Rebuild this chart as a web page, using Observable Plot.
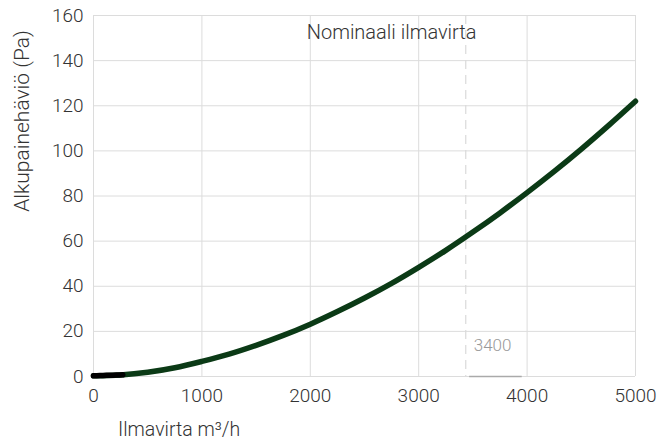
<!DOCTYPE html>
<html><head><meta charset="utf-8">
<script src="https://cdn.jsdelivr.net/npm/d3@7"></script>
<script src="https://cdn.jsdelivr.net/npm/@observablehq/plot@0.6"></script>
<style>
body{margin:0;background:#fff;}
svg{font-family:Roboto,"Liberation Sans",sans-serif;font-weight:300;}
</style></head><body>
<div id="chart"></div>
<script>
const airflow = [0,250,500,750,1000,1250,1500,1750,2000,2250,2500,2750,3000,3250,3500,3750,4000,4250,4500,4750,5000];
const pressure = [0.3,0.7,1.9,3.9,6.7,9.9,13.8,18.2,23.2,28.8,34.8,41.3,48.4,55.9,64.0,72.5,81.5,90.9,100.8,111.2,122.0];
const startFlow = [0,30,60,90,120,150,180,210,240,270];
const startPressure = [0.3,0.35,0.4,0.45,0.5,0.55,0.6,0.65,0.7,0.75];
const nominalFlow = 3434;
const nominalLabel = "3400";
const titleText = "Nominaali ilmavirta";
const xLabel = "Ilmavirta m³/h";
const yLabel = "Alkupainehäviö (Pa)";
const xTicks = [0,1000,2000,3000,4000,5000];
const yTicks = [0,20,40,60,80,100,120,140,160];
const barFlow = [3470, 3955];

const curve = airflow.map((x,i)=>({x, y: pressure[i]}));
const start = startFlow.map((x,i)=>({x, y: startPressure[i]}));

const plot = Plot.plot({
  width: 657, height: 441,
  marginLeft: 93, marginRight: 22, marginTop: 15, marginBottom: 65,
  style: {fontSize: "19px", color: "#333"},
  x: {domain: [0,5000], label: null},
  y: {domain: [0,160], label: null},
  marks: [
    Plot.gridX(xTicks, {stroke: "#dcdcdc", strokeOpacity: 1}),
    Plot.gridY(yTicks, {stroke: "#dcdcdc", strokeOpacity: 1}),
    Plot.ruleX([nominalFlow], {stroke: "#dadada", strokeDasharray: "9,6", strokeWidth: 1.2}),
    Plot.ruleY([0], {x1: barFlow[0], x2: barFlow[1], stroke: "#aaa", strokeWidth: 1.5}),
    Plot.line(curve, {x: "x", y: "y", stroke: "#0b3a16", strokeWidth: 5.5, curve: "catmull-rom"}),
    Plot.line(start, {x: "x", y: "y", stroke: "#000", strokeWidth: 5.5, strokeLinecap: "round"}),
    Plot.axisX({ticks: xTicks, tickFormat: "d", tickSize: 0, tickPadding: 12, fontSize: 19, fill: "#333", label: null}),
    Plot.axisY({ticks: yTicks, tickFormat: "d", tickSize: 0, tickPadding: 10, fontSize: 19, fill: "#333", label: null}),
    Plot.text([titleText], {x: 2750, y: 152.5, text: d=>d, fontSize: 20, fill: "#333", textAnchor: "middle"}),
    Plot.text([nominalLabel], {x: nominalFlow, y: 13.7, text: d=>d, dx: 8, fontSize: 17, fill: "#999", textAnchor: "start"})
  ]
});
document.getElementById("chart").appendChild(plot);

const svg = d3.select(plot);
svg.append("text")
  .attr("transform", "translate(22,121) rotate(-90)")
  .attr("text-anchor", "middle")
  .attr("dy", "0.35em")
  .attr("font-size", 21)
  .attr("fill", "#333")
  .text(yLabel);
svg.append("text")
  .attr("x", 118).attr("y", 429)
  .attr("text-anchor", "start")
  .attr("dy", "0.35em")
  .attr("font-size", 19.5)
  .attr("fill", "#333")
  .text(xLabel);
</script>
</body></html>
